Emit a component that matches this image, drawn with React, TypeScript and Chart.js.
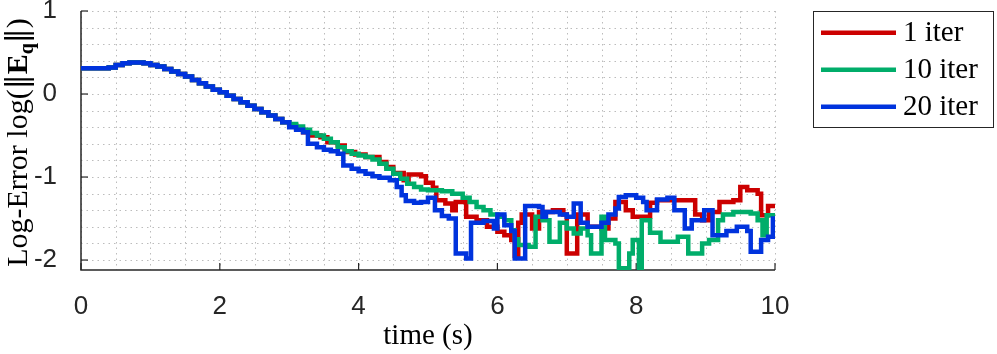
import React, { useEffect, useRef } from "react";
import { Chart, registerables } from "chart.js";

Chart.register(...registerables);

// ---------- data ----------
const xTickValues = [0, 2, 4, 6, 8, 10];
const yTickValues = [-2, -1, 0, 1];
const seriesLabels = ["1 iter", "10 iter", "20 iter"];
const seriesColors = ["#CC0000", "#00AD6A", "#0033DD"];

const sharedTime = [0, 0.1, 0.2, 0.3, 0.4, 0.5, 0.6, 0.7, 0.8, 0.9, 1.0, 1.1, 1.2, 1.3, 1.4, 1.5, 1.6, 1.7, 1.8, 1.9, 2.0, 2.1, 2.2, 2.3, 2.4, 2.5, 2.6, 2.7, 2.8, 2.9];
const sharedVal = [0.31, 0.31, 0.31, 0.31, 0.32, 0.35, 0.37, 0.38, 0.38, 0.37, 0.35, 0.33, 0.3, 0.27, 0.24, 0.21, 0.17, 0.13, 0.09, 0.05, 0.02, -0.02, -0.06, -0.1, -0.14, -0.18, -0.22, -0.26, -0.3, -0.34];

const redTime = [3.0, 3.1, 3.2, 3.3, 3.45, 3.55, 3.7, 3.8, 3.95, 4.1, 4.3, 4.4, 4.5, 4.65, 4.72, 4.9, 4.97, 5.07, 5.12, 5.25, 5.35, 5.4, 5.55, 5.7, 5.85, 6.0, 6.1, 6.2, 6.25, 6.3, 6.35, 6.5, 6.6, 6.8, 6.95, 7.0, 7.15, 7.3, 7.5, 7.6, 7.7, 7.85, 7.95, 8.1, 8.2, 8.3, 8.7, 8.85, 8.95, 9.05, 9.2, 9.4, 9.5, 9.6, 9.75, 9.8, 9.9, 10];
const redVal = [-0.38, -0.42, -0.46, -0.5, -0.52, -0.58, -0.62, -0.7, -0.73, -0.76, -0.82, -0.88, -0.95, -1.04, -0.97, -0.99, -1.07, -1.13, -1.28, -1.32, -1.4, -1.3, -1.48, -1.52, -1.6, -1.66, -1.7, -1.76, -1.95, -1.55, -1.45, -1.62, -1.42, -1.4, -1.45, -1.92, -1.45, -1.6, -1.62, -1.5, -1.3, -1.4, -1.48, -1.48, -1.31, -1.28, -1.28, -1.45, -1.52, -1.42, -1.3, -1.28, -1.12, -1.16, -1.2, -1.46, -1.35, -1.34];

const greenTime = [3.0, 3.1, 3.2, 3.3, 3.4, 3.5, 3.6, 3.7, 3.8, 3.9, 4.0, 4.1, 4.2, 4.3, 4.4, 4.5, 4.6, 4.7, 4.8, 4.9, 5.0, 5.2, 5.35, 5.5, 5.6, 5.7, 5.8, 5.9, 6.0, 6.1, 6.2, 6.25, 6.3, 6.45, 6.55, 6.65, 6.75, 6.9, 7.0, 7.1, 7.2, 7.3, 7.35, 7.5, 7.55, 7.7, 7.75, 7.9, 7.95, 8.04, 8.08, 8.2, 8.35, 8.6, 8.75, 8.95, 9.05, 9.18, 9.25, 9.4, 9.65, 9.75, 9.82, 9.88, 10];
const greenVal = [-0.36, -0.39, -0.43, -0.47, -0.5, -0.54, -0.58, -0.64, -0.69, -0.72, -0.74, -0.76, -0.79, -0.84, -0.9, -0.96, -1.02, -1.08, -1.12, -1.15, -1.16, -1.17, -1.2, -1.25, -1.3, -1.36, -1.4, -1.45, -1.48, -1.52, -1.64, -1.75, -1.82, -1.84, -1.48, -1.52, -1.78, -1.55, -1.62, -1.68, -1.62, -1.7, -1.92, -1.48, -1.76, -1.8, -2.1, -1.92, -1.76, -2.1, -1.52, -1.67, -1.78, -1.72, -1.92, -1.8, -1.76, -1.52, -1.45, -1.42, -1.44, -1.52, -1.7, -1.46, -1.46];

const blueTime = [3.0, 3.1, 3.2, 3.27, 3.4, 3.5, 3.6, 3.7, 3.78, 3.9, 4.0, 4.1, 4.2, 4.3, 4.45, 4.55, 4.62, 4.68, 4.8, 4.9, 5.0, 5.1, 5.2, 5.3, 5.4, 5.55, 5.62, 5.8, 5.95, 6.0, 6.1, 6.2, 6.25, 6.4, 6.6, 6.65, 6.7, 6.9, 7.0, 7.1, 7.2, 7.3, 7.5, 7.6, 7.7, 7.75, 7.85, 8.0, 8.1, 8.15, 8.3, 8.45, 8.55, 8.7, 8.8, 8.98, 9.1, 9.3, 9.45, 9.6, 9.65, 9.8, 9.9, 9.97, 10];
const blueVal = [-0.4, -0.43, -0.46, -0.6, -0.64, -0.67, -0.69, -0.72, -0.86, -0.9, -0.93, -0.96, -0.99, -1.01, -1.04, -1.12, -1.22, -1.29, -1.31, -1.3, -1.25, -1.4, -1.47, -1.5, -1.92, -1.98, -1.55, -1.53, -1.62, -1.45, -1.58, -1.65, -1.98, -1.35, -1.36, -1.48, -1.42, -1.45, -1.48, -1.32, -1.55, -1.6, -1.55, -1.45, -1.38, -1.24, -1.22, -1.25, -1.3, -1.4, -1.27, -1.25, -1.4, -1.62, -1.52, -1.4, -1.7, -1.65, -1.6, -1.65, -1.9, -1.76, -1.72, -1.5, -1.48];

const xMin = 0;
const xMax = 10;
const yMin = -2.12;
const yMax = 1;

const AXIS_COLOR = "#262626";
const SERIF = "'Liberation Serif', 'Times New Roman', serif";
const SANS = "'Liberation Sans', Arial, sans-serif";

function toPoints(t: number[], v: number[]) {
  return t.map((x, i) => ({ x, y: v[i] }));
}

const gridPlugin = {
  id: "matlabGrid",
  beforeDatasetsDraw(chart: any) {
    const { ctx, chartArea, scales } = chart;
    const xs = scales.x;
    const ys = scales.y;
    ctx.save();
    ctx.strokeStyle = "#bcbcbc";
    ctx.lineWidth = 1;
    ctx.setLineDash([1.5, 4]);
    for (let v = xMin; v <= xMax + 1e-9; v += 0.5) {
      const px = Math.round(xs.getPixelForValue(v)) + 0.5;
      ctx.beginPath();
      ctx.moveTo(px, chartArea.top);
      ctx.lineTo(px, chartArea.bottom);
      ctx.stroke();
    }
    for (let k = -10; k <= 5; k++) {
      const v = k * 0.2;
      if (v < yMin - 1e-9 || v > yMax + 1e-9) continue;
      const py = Math.round(ys.getPixelForValue(v)) + 0.5;
      ctx.beginPath();
      ctx.moveTo(chartArea.left, py);
      ctx.lineTo(chartArea.right, py);
      ctx.stroke();
    }
    ctx.setLineDash([]);
    // axes
    ctx.strokeStyle = AXIS_COLOR;
    ctx.lineWidth = 1.5;
    ctx.beginPath();
    ctx.moveTo(chartArea.left, chartArea.top);
    ctx.lineTo(chartArea.left, chartArea.bottom);
    ctx.lineTo(chartArea.right, chartArea.bottom);
    ctx.stroke();
    ctx.lineWidth = 1.2;
    for (const v of xTickValues) {
      const px = xs.getPixelForValue(v);
      ctx.beginPath();
      ctx.moveTo(px, chartArea.bottom);
      ctx.lineTo(px, chartArea.bottom - 7);
      ctx.stroke();
    }
    for (const v of yTickValues) {
      const py = ys.getPixelForValue(v);
      ctx.beginPath();
      ctx.moveTo(chartArea.left, py);
      ctx.lineTo(chartArea.left + 7, py);
      ctx.stroke();
    }
    ctx.restore();
  },
};

const decoPlugin = {
  id: "matlabDeco",
  afterDraw(chart: any) {
    const { ctx, chartArea } = chart;
    ctx.save();
    // x title
    ctx.fillStyle = "#000";
    ctx.font = `29px ${SERIF}`;
    ctx.textAlign = "center";
    ctx.textBaseline = "alphabetic";
    ctx.fillText("time (s)", (chartArea.left + chartArea.right) / 2, 344);

    // y title (rotated, with bold E and subscript q)
    const BAR = `30px 'DejaVu Serif', serif`;
    const parts = [
      { t: "Log-Error log(", f: `30px ${SERIF}`, dy: 0 },
      { t: "\u2016", f: BAR, dy: 0 },
      { t: "E", f: `bold 30px ${SERIF}`, dy: 0 },
      { t: "q", f: `bold 20px ${SERIF}`, dy: 6 },
      { t: "\u2016", f: BAR, dy: 0 },
      { t: ")", f: `30px ${SERIF}`, dy: 0 },
    ];
    let total = 0;
    const widths = parts.map((p) => {
      ctx.font = p.f;
      const w = ctx.measureText(p.t).width;
      total += w;
      return w;
    });
    const cy = (chartArea.top + chartArea.bottom) / 2 + 2;
    ctx.translate(27, cy);
    ctx.rotate(-Math.PI / 2);
    ctx.textAlign = "left";
    let x = -total / 2;
    parts.forEach((p, i) => {
      ctx.font = p.f;
      ctx.fillText(p.t, x, p.dy);
      x += widths[i];
    });
    ctx.restore();

    // legend
    ctx.save();
    const bx = 813.5, by = 11.5, bw = 180, bh = 116;
    ctx.fillStyle = "#fff";
    ctx.fillRect(bx, by, bw, bh);
    ctx.strokeStyle = AXIS_COLOR;
    ctx.lineWidth = 1;
    ctx.strokeRect(bx, by, bw, bh);
    const rows = [32.7, 69.7, 106.7];
    ctx.font = `29px ${SERIF}`;
    ctx.textAlign = "left";
    ctx.textBaseline = "alphabetic";
    seriesLabels.forEach((lab, i) => {
      ctx.strokeStyle = seriesColors[i];
      ctx.lineWidth = 4.5;
      ctx.beginPath();
      ctx.moveTo(821, rows[i]);
      ctx.lineTo(896, rows[i]);
      ctx.stroke();
      ctx.fillStyle = "#000";
      ctx.fillText(lab, 903, rows[i] + 8);
    });
    ctx.restore();
  },
};

export default function App() {
  const ref = useRef<HTMLCanvasElement>(null);
  useEffect(() => {
    const canvas = ref.current;
    if (!canvas) return;
    const seriesData = [
      toPoints([...sharedTime, ...redTime], [...sharedVal, ...redVal]),
      toPoints([...sharedTime, ...greenTime], [...sharedVal, ...greenVal]),
      toPoints([...sharedTime, ...blueTime], [...sharedVal, ...blueVal]),
    ];
    const chart = new Chart(canvas, {
      type: "line",
      data: {
        datasets: seriesData.map((d, i) => ({
          label: seriesLabels[i],
          data: d,
          borderColor: seriesColors[i],
          backgroundColor: seriesColors[i],
          borderWidth: 4.5,
          pointRadius: 0,
          stepped: "before" as any,
          fill: false,
          order: 2 - i,
          borderJoinStyle: "miter" as any,
        })),
      },
      options: {
        responsive: false,
        animation: false,
        devicePixelRatio: 1,
        layout: { padding: { left: 0, top: 11, right: 222, bottom: 0 } },
        plugins: { legend: { display: false }, tooltip: { enabled: false } },
        scales: {
          x: {
            type: "linear",
            min: xMin,
            max: xMax,
            grid: { display: false },
            border: { display: false },
            afterBuildTicks: (s: any) => {
              s.ticks = xTickValues.map((v) => ({ value: v }));
            },
            afterFit: (s: any) => {
              s.height = 84;
              s.paddingLeft = 0;
              s.paddingRight = 0;
            },
            ticks: {
              color: AXIS_COLOR,
              font: { family: SANS, size: 26, lineHeight: 1 },
              padding: 16,
              maxRotation: 0,
              autoSkip: false,
              callback: (v: any) => String(v),
            },
          },
          y: {
            type: "linear",
            min: yMin,
            max: yMax,
            grid: { display: false },
            border: { display: false },
            afterBuildTicks: (s: any) => {
              s.ticks = yTickValues.map((v) => ({ value: v }));
            },
            afterFit: (s: any) => {
              s.width = 81;
              s.paddingTop = 0;
              s.paddingBottom = 0;
            },
            ticks: {
              color: AXIS_COLOR,
              font: { family: SANS, size: 26, lineHeight: 1 },
              padding: 16,
              autoSkip: false,
              callback: (v: any) => String(v),
            },
          },
        },
      } as any,
      plugins: [gridPlugin, decoPlugin],
    });
    return () => chart.destroy();
  }, []);
  return (
    <div style={{ position: "fixed", left: 0, top: 0, width: 997, height: 354, background: "#fff" }}>
      <canvas ref={ref} width={997} height={354} style={{ width: 997, height: 354 }} />
    </div>
  );
}
